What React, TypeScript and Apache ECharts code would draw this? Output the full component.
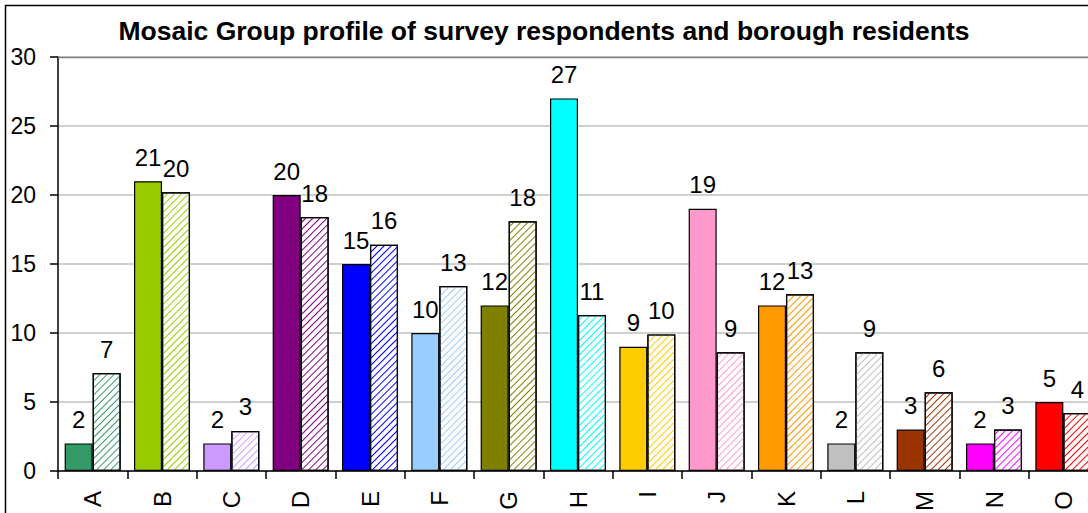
import React, { useEffect, useRef } from "react";
import * as echarts from "echarts";

const categories = ["A", "B", "C", "D", "E", "F", "G", "H", "I", "J", "K", "L", "M", "N", "O"];
const surveyValues = [2, 21, 2, 20, 15, 10, 12, 27, 9, 19, 12, 2, 3, 2, 5];
const boroughValues = [7.1, 20.2, 2.9, 18.4, 16.4, 13.4, 18.1, 11.3, 9.9, 8.6, 12.8, 8.6, 5.7, 3.0, 4.2];
const groupColors = [
  "#339966", "#99CC00", "#CC99FF", "#800080", "#0000FF", "#99CCFF", "#808000", "#00FFFF",
  "#FFCC00", "#FF99CC", "#FF9900", "#C0C0C0", "#993300", "#FF00FF", "#FF0000",
];
const yTicks = { min: 0, max: 30, interval: 5 };
const titleText = "Mosaic Group profile of survey respondents and borough residents";

const FONT = "Arial, 'Liberation Sans', sans-serif";

export default function App() {
  const ref = useRef<HTMLDivElement>(null);
  useEffect(() => {
    if (!ref.current) return;
    const chart = echarts.init(ref.current, null, { renderer: "svg" });
    const labelCfg = {
      show: true,
      position: "top",
      distance: 12,
      color: "#000",
      fontSize: 24,
      fontFamily: FONT,
      formatter: (p: any) => String(Math.round(p.value)),
    };
    chart.setOption({
      animation: false,
      backgroundColor: "#fff",
      title: {
        text: titleText,
        left: "center",
        top: 17,
        padding: 0,
        textStyle: { fontSize: 26.5, fontWeight: "bold", fontFamily: FONT, color: "#000" },
      },
      graphic: [
        {
          type: "rect",
          shape: { x: 5.5, y: 5.5, width: 1200, height: 600 },
          style: { fill: "none", stroke: "#000", lineWidth: 1.5 },
          silent: true,
          z: 100,
        },
        {
          type: "line",
          shape: { x1: 58, y1: 57.5, x2: 1100, y2: 57.5 },
          style: { stroke: "#808080", lineWidth: 1.5 },
          silent: true,
          z: 5,
        },
      ],
      grid: {
        left: 58,
        top: 57,
        bottom: 42,
        right: -10,
        containLabel: false,
        outerBoundsMode: "none",
      },
      xAxis: {
        type: "category",
        data: categories,
        axisLine: { show: true, lineStyle: { color: "#000", width: 1.5 } },
        axisTick: { show: true, length: 8, lineStyle: { color: "#000", width: 1.5 } },
        axisLabel: { rotate: 90, fontSize: 24, fontFamily: FONT, color: "#000", margin: 20 },
      },
      yAxis: {
        type: "value",
        min: yTicks.min,
        max: yTicks.max,
        interval: yTicks.interval,
        axisLine: { show: true, lineStyle: { color: "#000", width: 1.5 } },
        axisTick: { show: true, length: 8, lineStyle: { color: "#000", width: 1.5 } },
        axisLabel: { fontSize: 23, fontFamily: FONT, color: "#000", margin: 22 },
        splitLine: { show: true, lineStyle: { color: "#c0c0c0", width: 1.5 } },
      },
      series: [
        {
          name: "Survey respondents",
          type: "bar",
          barWidth: 28,
          barGap: "0%",
          data: surveyValues.map((v, i) => ({
            value: v,
            itemStyle: { color: groupColors[i], borderColor: "#000", borderWidth: 1.2 },
          })),
          label: labelCfg,
        },
        {
          name: "Borough residents",
          type: "bar",
          barWidth: 28,
          barGap: "0%",
          data: boroughValues.map((v, i) => ({
            value: v,
            itemStyle: {
              color: "#fff",
              borderColor: "#000",
              borderWidth: 1.2,
              decal: {
                symbol: "rect",
                symbolSize: 1,
                color: groupColors[i],
                dashArrayX: [1, 0],
                dashArrayY: [1, 3.5],
                rotation: -Math.PI / 4,
              },
            },
          })),
          label: labelCfg,
        },
      ],
    });
    return () => chart.dispose();
  }, []);
  return (
    <div style={{ position: "fixed", left: 0, top: 0, width: 1088, height: 513, overflow: "hidden" }}>
      <div ref={ref} style={{ width: 1088, height: 513 }} />
    </div>
  );
}
